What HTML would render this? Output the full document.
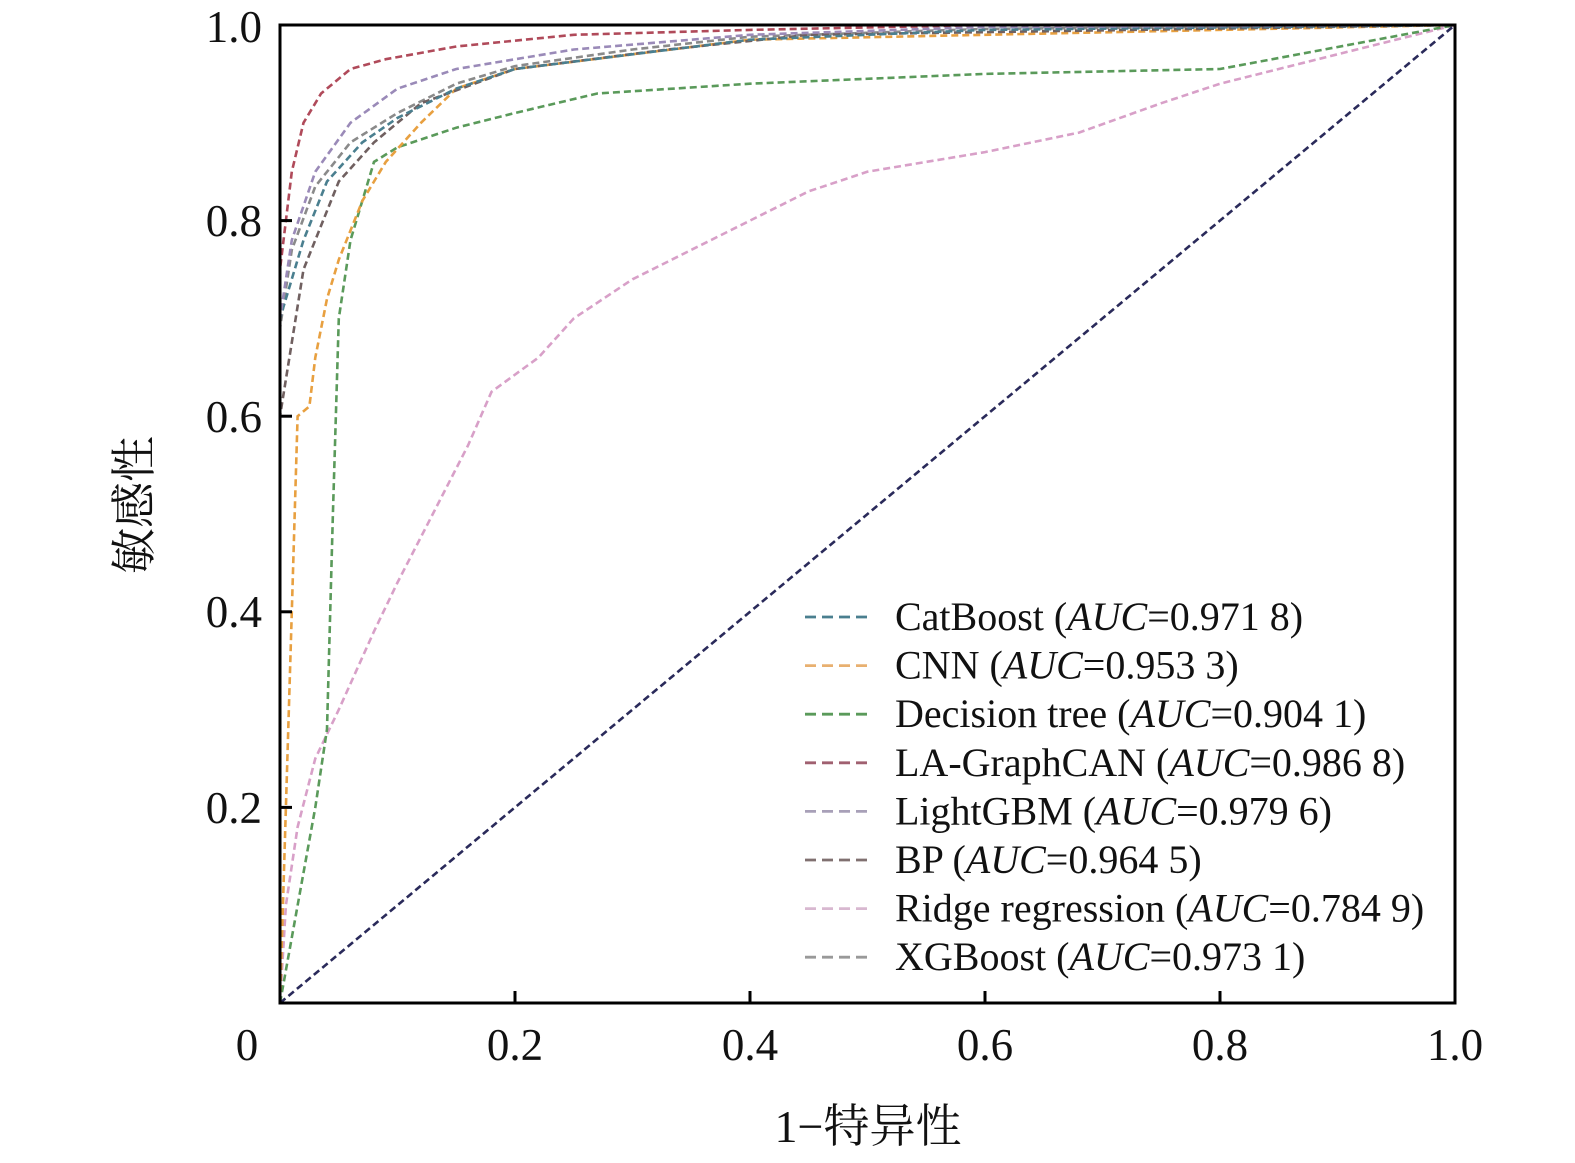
<!DOCTYPE html>
<html><head><meta charset="utf-8"><style>
body{margin:0;background:#fff}
svg{display:block}
text{font-family:"Liberation Serif","Noto Serif CJK SC",serif;fill:#111}
</style></head><body>
<svg id="s" width="1575" height="1163" xmlns="http://www.w3.org/2000/svg">
<g id="curves"></g>
<rect x="280" y="25" width="1175" height="978" fill="none" stroke="#000" stroke-width="3"/>
<g stroke="#000" stroke-width="3">
<line x1="515" y1="1003" x2="515" y2="991"/><line x1="750" y1="1003" x2="750" y2="991"/><line x1="985" y1="1003" x2="985" y2="991"/><line x1="1220" y1="1003" x2="1220" y2="991"/>
<line x1="280" y1="807.4" x2="292" y2="807.4"/><line x1="280" y1="611.8" x2="292" y2="611.8"/><line x1="280" y1="416.2" x2="292" y2="416.2"/><line x1="280" y1="220.6" x2="292" y2="220.6"/>
</g>
<g font-size="45" text-anchor="middle">
<text x="247" y="1060">0</text><text x="515" y="1060">0.2</text><text x="750" y="1060">0.4</text><text x="985" y="1060">0.6</text><text x="1220" y="1060">0.8</text><text x="1455" y="1060">1.0</text>
</g>
<g font-size="45" text-anchor="end">
<text x="262" y="823">0.2</text><text x="262" y="627">0.4</text><text x="262" y="432">0.6</text><text x="262" y="236">0.8</text><text x="262" y="42">1.0</text>
</g>
<text x="868" y="1142" font-size="46" text-anchor="middle">1−特异性</text>
<text transform="translate(150,505) rotate(-90)" font-size="46" text-anchor="middle">敏感性</text>
<g id="legend" font-size="40"></g>
</svg>
<script>
var X=function(x){return 280+x*1175},Y=function(y){return 1003-y*978};
var series=[
["#8a8a8a",[[0,0],[0,0.69],[0.01,0.77],[0.03,0.835],[0.06,0.88],[0.1,0.91],[0.15,0.94],[0.2,0.958],[0.3,0.975],[0.4,0.988],[0.6,0.996],[1,1]]],
["#d8a0c8",[[0,0],[0.005,0.1],[0.015,0.18],[0.03,0.25],[0.05,0.3],[0.08,0.38],[0.1,0.43],[0.13,0.5],[0.16,0.57],[0.18,0.625],[0.22,0.66],[0.25,0.7],[0.3,0.74],[0.35,0.77],[0.4,0.8],[0.45,0.83],[0.5,0.85],[0.6,0.87],[0.68,0.89],[0.75,0.92],[0.8,0.94],[0.9,0.97],[1,1]]],
["#5a9a5a",[[0,0],[0.03,0.2],[0.04,0.28],[0.045,0.5],[0.05,0.7],[0.06,0.78],[0.08,0.86],[0.1,0.875],[0.15,0.895],[0.2,0.91],[0.27,0.93],[0.4,0.94],[0.6,0.95],[0.8,0.955],[1,1]]],
["#e8a040",[[0,0],[0.005,0.2],[0.01,0.4],[0.015,0.6],[0.025,0.61],[0.03,0.66],[0.04,0.72],[0.05,0.76],[0.07,0.82],[0.09,0.86],[0.12,0.9],[0.15,0.935],[0.2,0.955],[0.3,0.97],[0.4,0.985],[1,1]]],
["#706060",[[0,0],[0,0.6],[0.02,0.75],[0.05,0.84],[0.08,0.88],[0.12,0.92],[0.2,0.955],[0.33,0.975],[0.45,0.99],[1,1]]],
["#4a7f8f",[[0,0],[0,0.7],[0.02,0.78],[0.04,0.84],[0.07,0.88],[0.1,0.905],[0.15,0.935],[0.2,0.955],[0.3,0.97],[0.4,0.985],[0.6,0.995],[1,1]]],
["#9a8ab8",[[0,0],[0,0.7],[0.01,0.78],[0.03,0.85],[0.06,0.9],[0.1,0.935],[0.15,0.955],[0.25,0.975],[0.4,0.99],[0.6,0.998],[1,1]]],
["#b04a5a",[[0,0],[0,0.75],[0.005,0.8],[0.01,0.85],[0.02,0.9],[0.035,0.93],[0.06,0.955],[0.09,0.965],[0.15,0.978],[0.25,0.99],[0.4,0.995],[0.6,1],[1,1]]],
["#2a2a5a",[[0,0],[1,1]]]
];
var ns="http://www.w3.org/2000/svg",g=document.getElementById("curves");
series.forEach(function(s){var p=document.createElementNS(ns,"path");
p.setAttribute("d","M"+s[1].map(function(q){return X(q[0]).toFixed(1)+","+Y(q[1]).toFixed(1)}).join("L"));
p.setAttribute("fill","none");p.setAttribute("stroke",s[0]);p.setAttribute("stroke-width","2.6");p.setAttribute("stroke-dasharray","7,4");g.appendChild(p);});
var leg=[["#4a7f8f","CatBoost (","0.971 8)"],["#e8b070","CNN (","0.953 3)"],["#5a9a5a","Decision tree (","0.904 1)"],["#a06070","LA-GraphCAN (","0.986 8)"],["#a8a0b8","LightGBM (","0.979 6)"],["#807070","BP (","0.964 5)"],["#d8b8d0","Ridge regression (","0.784 9)"],["#999","XGBoost (","0.973 1)"]];
var lg=document.getElementById("legend"),h="";
leg.forEach(function(l,i){var y=617+i*48.6;
h+='<line x1="805" y1="'+y+'" x2="872" y2="'+y+'" stroke="'+l[0]+'" stroke-width="2.8" stroke-dasharray="11,6"/>';
h+='<text x="895" y="'+(y+13)+'">'+l[1]+'<tspan font-style="italic">AUC</tspan>=0.'+l[2].slice(2)+'</text>';});
lg.innerHTML=h;
</script>
</body></html>
